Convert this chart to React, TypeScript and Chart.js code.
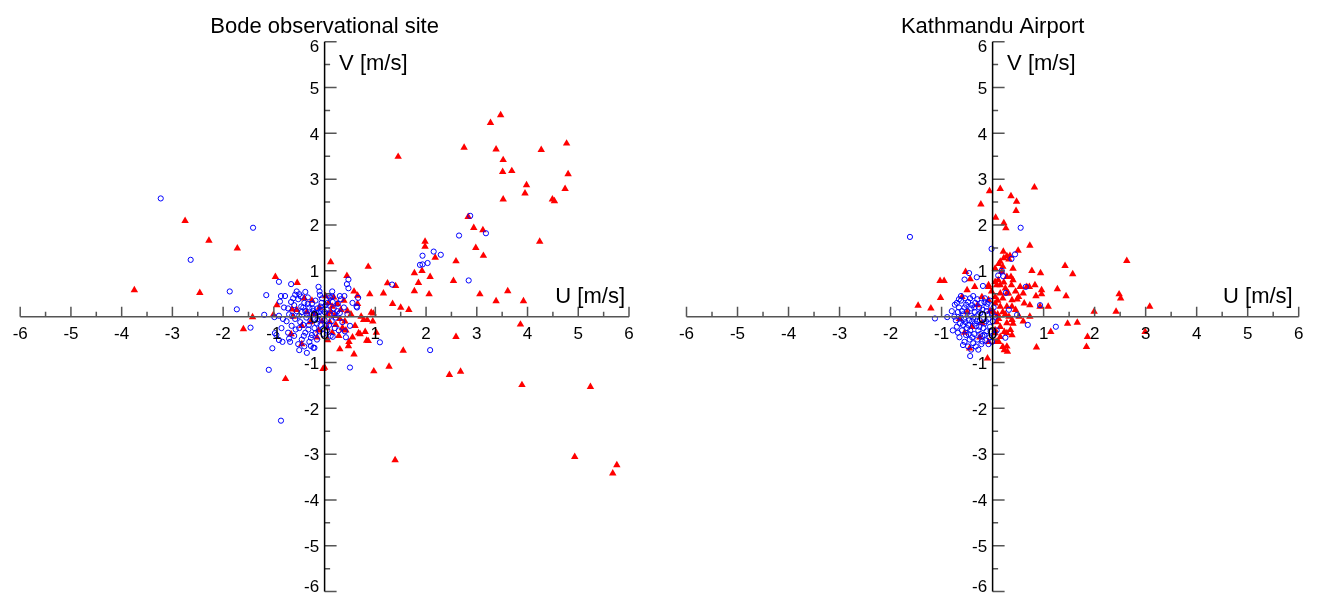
import React, { useEffect, useRef } from 'react';
import { Chart, registerables } from 'chart.js';

Chart.register(...registerables);

// ---------- tick values ----------
const majorTicks = [-6, -5, -4, -3, -2, -1, 0, 1, 2, 3, 4, 5, 6];
const minorTicks = [-5.5, -4.5, -3.5, -2.5, -1.5, -0.5, 0.5, 1.5, 2.5, 3.5, 4.5, 5.5];

// ---------- Bode observational site ----------
// [U, V] pairs, m/s
const bodeRed: number[][] = [
  [3.47, 4.40], [3.27, 4.23], [2.75, 3.69], [3.38, 3.65], [4.27, 3.64], [4.77, 3.78], [1.45, 3.49],
  [3.52, 3.42], [3.51, 3.16], [3.69, 3.18], [4.80, 3.11], [3.98, 2.87], [3.95, 2.69], [4.74, 2.79],
  [3.52, 2.56], [4.49, 2.56], [4.53, 2.52], [2.83, 2.18], [2.94, 1.94], [3.12, 1.89], [4.24, 1.64],
  [1.98, 1.64], [1.98, 1.53], [2.98, 1.50], [3.13, 1.33], [2.18, 1.29], [2.59, 1.21], [1.77, 0.95],
  [1.92, 1.00], [2.08, 0.87], [1.85, 0.74], [2.54, 0.78], [1.24, 0.73], [1.40, 0.67], [1.77, 0.56],
  [1.16, 0.51], [2.06, 0.49], [3.06, 0.49], [3.61, 0.56], [3.38, 0.34], [3.92, 0.34], [1.34, 0.28],
  [1.50, 0.20], [1.66, 0.15], [3.86, -0.17], [2.59, -0.44], [1.55, -0.74], [1.27, -1.09], [0.97, -1.19],
  [2.46, -1.27], [2.68, -1.20], [3.89, -1.49], [5.24, -1.53], [1.39, -3.13], [4.93, -3.06], [5.76, -3.24],
  [5.68, -3.42],
  [-2.75, 2.09], [-2.28, 1.66], [-1.72, 1.49], [-3.75, 0.58], [-2.46, 0.52], [-0.97, 0.87], [-0.54, 0.74],
  [-0.94, 0.25], [-1.42, -0.01], [-1.60, -0.27], [-1.01, 0.04], [-0.64, 0.16], [-0.66, -0.38], [-0.77, -1.36],
  [0.12, 1.19], [0.86, 1.09], [0.44, 0.89], [0.58, 0.55], [0.65, 0.46], [0.89, 0.49], [-0.45, -0.60],
  [0.00, -1.11], [-0.03, -1.14], [0.06, -0.51], [0.37, -0.28], [0.92, 0.09], [0.77, -0.07], [0.84, -0.07],
  [1.02, -0.35], [0.47, -0.64], [0.30, -0.71], [0.58, -0.82], [0.83, -0.52], [0.86, -0.53], [0.80, -0.33],
  [0.67, -0.36], [0.95, -0.10], [0.96, 0.07],
  [0.08, 0.30], [0.15, 0.22], [0.25, 0.28], [0.12, 0.10], [0.20, 0.02], [0.30, -0.05], [0.10, -0.12],
  [0.22, -0.18], [0.35, -0.25], [0.05, -0.25], [0.15, -0.35], [0.28, -0.42], [0.40, -0.10], [0.45, 0.12],
  [0.38, 0.35], [0.52, 0.05], [0.60, -0.20], [0.55, -0.45], [0.70, -0.38], [0.48, -0.55], [0.02, 0.45],
  [0.18, 0.42], [0.32, 0.15], [0.06, 0.05], [0.42, -0.30], [0.65, 0.28], [0.72, 0.00],
  [-0.35, 0.10], [-0.20, 0.05], [-0.10, 0.20], [-0.28, -0.12], [-0.12, -0.30], [-0.45, -0.20],
  [-0.55, 0.15], [-0.25, 0.35], [-0.05, -0.10], [-0.15, -0.45], [-0.40, 0.40], [-0.62, 0.00],
];

const bodeBlue: number[][] = [
  [2.87, 2.20], [2.65, 1.77], [3.18, 1.82], [1.93, 1.33], [2.15, 1.42], [2.29, 1.35], [2.03, 1.17],
  [1.88, 1.13], [1.93, 1.14], [1.33, 0.70], [2.84, 0.79], [2.08, -0.73], [1.09, -0.56],
  [-3.23, 2.58], [-1.41, 1.94], [-2.64, 1.24], [-1.87, 0.55], [-1.73, 0.16], [-1.46, -0.24], [-1.15, 0.47],
  [-0.90, 0.76], [-0.66, 0.71], [-0.86, 0.45], [-0.88, 0.33], [-1.19, 0.04], [-0.99, -0.01], [-0.98, -0.36],
  [-0.90, -0.51], [-0.83, -0.55], [-1.03, -0.69], [-1.10, -1.16], [-0.86, -2.27], [-0.50, -0.73],
  [-0.12, 0.65], [-0.38, 0.54], [-0.50, 0.49], [0.47, 0.81], [0.44, 0.71], [0.47, 0.62], [0.39, 0.45],
  [0.15, 0.44], [0.66, 0.41], [0.63, 0.22], [0.50, -1.11], [-0.35, -0.79], [-0.27, -0.64], [0.16, -0.44],
  [0.42, -0.45], [-0.09, 0.47], [0.11, 0.42], [0.30, 0.45], [-0.47, 0.44], [0.64, 0.20], [-0.20, -0.68],
  [-0.60, 0.25], [-0.52, 0.38], [-0.45, 0.10], [-0.40, 0.30], [-0.35, 0.05], [-0.30, 0.20], [-0.28, -0.08],
  [-0.22, 0.12], [-0.18, 0.35], [-0.15, -0.15], [-0.12, 0.02], [-0.08, 0.22], [-0.05, -0.05], [0.00, 0.10],
  [0.03, -0.20], [0.06, 0.30], [0.10, 0.05], [0.14, -0.10], [0.18, 0.18], [0.22, -0.02], [0.26, 0.28],
  [0.30, 0.08], [0.35, -0.12], [0.38, 0.20], [0.45, 0.05], [-0.70, 0.05], [-0.75, -0.10], [-0.65, -0.20],
  [-0.58, -0.05], [-0.50, -0.25], [-0.42, -0.18], [-0.38, -0.35], [-0.32, -0.28], [-0.25, -0.40],
  [-0.20, -0.25], [-0.10, -0.32], [-0.02, -0.38], [0.05, -0.30], [0.12, -0.42], [-0.55, 0.12],
  [-0.48, -0.12], [-0.62, 0.40], [-0.80, 0.20], [-0.85, -0.25], [-0.72, -0.35], [-0.60, -0.42],
  [-0.45, -0.50], [-0.30, -0.55], [-0.15, -0.50], [-0.05, 0.40], [0.02, 0.25], [0.08, 0.45], [0.16, 0.32],
  [0.25, 0.12], [-0.33, 0.42], [-0.25, 0.28], [-0.14, 0.18], [-0.20, -0.05], [-0.08, -0.18], [0.00, -0.08],
  [-0.36, -0.02], [-0.26, 0.06], [-0.16, 0.08], [-0.05, 0.15], [-0.42, 0.20], [-0.68, -0.55], [-0.52, -0.60],
  [-0.40, -0.65], [-0.22, -0.68], [0.55, 0.30], [0.50, -0.20], [0.20, -0.25], [-0.90, 0.02], [-0.95, -0.40],
  [-0.78, 0.45], [0.32, 0.38], [0.40, -0.32], [-0.10, 0.55], [-0.55, 0.55], [0.15, 0.55],
  [-0.72, 0.18], [-0.64, 0.02], [-0.57, -0.28], [-0.46, 0.22], [-0.38, 0.12], [-0.31, -0.18],
  [-0.24, 0.18], [-0.18, -0.36], [-0.11, 0.10], [-0.03, -0.26], [0.04, 0.16], [0.09, -0.18],
  [-0.66, 0.32], [-0.82, -0.05], [-0.50, 0.02], [-0.33, 0.28], [-0.27, -0.46], [-0.06, 0.30],
  [0.19, 0.06], [-0.41, -0.42], [-0.14, -0.06], [-0.70, -0.48], [0.28, -0.30], [-0.58, 0.48],
];

// ---------- Kathmandu Airport ----------
const ktmRed: number[][] = [
  [-0.06, 2.74], [0.15, 2.79], [0.82, 2.82], [0.36, 2.63], [0.47, 2.51], [-0.23, 2.45], [0.46, 2.31],
  [0.06, 2.16], [0.22, 2.04], [0.26, 1.93], [0.73, 1.55], [0.50, 1.44], [0.21, 1.42], [0.28, 1.32],
  [0.34, 1.33], [0.15, 1.20], [0.20, 1.09], [1.42, 1.11], [2.63, 1.22], [1.57, 0.93], [0.77, 1.00],
  [0.94, 0.95], [-0.53, 0.98], [-0.44, 0.82], [-1.03, 0.78], [-0.95, 0.78], [-1.02, 0.41], [-1.21, 0.18],
  [-1.46, 0.24], [0.36, 0.87], [0.11, 0.80], [0.22, 0.75], [0.08, 0.69], [0.37, 0.69], [-0.08, 0.69],
  [-0.35, 0.65], [0.54, 0.65], [0.72, 0.65], [0.96, 0.58], [1.27, 0.60], [1.44, 0.45], [2.48, 0.49],
  [2.51, 0.40], [0.48, 0.38], [0.60, 0.51], [0.85, 0.45], [1.09, 0.22], [0.31, 0.51], [0.73, 0.25],
  [0.52, 0.00], [0.73, 0.00], [0.32, 0.00], [0.40, -0.15], [0.23, -0.33], [0.07, -0.55], [0.12, -0.55],
  [-0.45, -0.69], [-0.10, -0.91], [0.23, -0.73], [0.20, -0.66], [0.38, -0.40], [0.86, -0.67], [1.14, -0.33],
  [1.47, -0.15], [1.66, -0.13], [1.86, -0.44], [1.84, -0.66], [1.99, 0.11], [2.42, 0.11], [3.08, 0.22],
  [2.99, -0.33], [0.96, 0.49],
  [0.28, 0.87], [0.15, 0.69], [0.05, 0.76], [-0.08, 0.65], [0.05, 0.43], [0.15, 0.51], [0.28, 0.51],
  [0.38, 0.36], [0.51, 0.43], [0.67, 0.65], [0.83, 0.69], [0.93, 0.22], [0.62, 0.29], [0.38, 0.22],
  [0.28, 0.22], [0.15, 0.22], [0.05, 0.29], [-0.08, 0.36], [-0.21, 0.43], [-0.50, 0.58], [-0.60, 0.43],
  [0.38, -0.07], [0.28, -0.14], [0.15, -0.22], [0.05, -0.29], [0.28, -0.36], [0.35, -0.29], [0.15, -0.44],
  [0.28, -0.65], [0.29, -0.76], [-0.08, -0.55], [0.05, -0.36], [-0.21, -0.14], [-0.40, -0.22], [0.10, 0.05],
  [0.20, 0.10], [-0.05, 0.12], [0.45, 0.15], [0.60, -0.10], [-0.30, 0.25], [-0.50, 0.10], [-0.65, -0.05],
  [-0.55, -0.35], [-0.25, -0.45], [0.12, 1.15], [0.32, 1.25], [0.22, 1.28], [0.05, 1.05], [0.40, 1.05],
  [0.18, 0.98], [0.25, 0.62], [0.45, 0.55], [0.40, 0.80],
  [0.02, 0.10], [0.10, 0.35], [0.20, 0.40], [0.12, -0.05], [0.25, 0.05], [0.08, -0.12], [-0.02, 0.55],
];

const ktmBlue: number[][] = [
  [-1.62, 1.74], [0.55, 1.94], [-0.02, 1.48], [0.44, 1.36], [0.37, 1.26], [0.18, 1.00], [0.11, 0.90],
  [0.21, 0.88], [-0.46, 0.95], [-0.55, 0.81], [-0.31, 0.86], [-0.19, 0.67], [0.65, 0.65], [0.26, 0.52],
  [0.93, 0.25], [-1.13, -0.04], [-0.89, -0.01], [-0.44, -0.86], [-0.01, -0.55], [0.25, -0.46], [0.69, -0.18],
  [1.24, -0.22], [0.48, 0.04], [0.32, 0.15],
  [-0.70, 0.30], [-0.62, 0.35], [-0.55, 0.20], [-0.48, 0.32], [-0.40, 0.25], [-0.30, 0.38], [-0.22, 0.30],
  [-0.12, 0.22], [-0.05, 0.35], [0.02, 0.20], [-0.68, 0.10], [-0.58, 0.05], [-0.50, 0.12], [-0.42, 0.02],
  [-0.35, 0.10], [-0.28, 0.05], [-0.20, 0.15], [-0.10, 0.05], [-0.02, 0.08], [-0.72, -0.08], [-0.64, -0.15],
  [-0.56, -0.05], [-0.48, -0.18], [-0.40, -0.10], [-0.32, -0.20], [-0.25, -0.08], [-0.16, -0.15],
  [-0.08, -0.05], [-0.60, -0.30], [-0.52, -0.40], [-0.44, -0.30], [-0.36, -0.38], [-0.28, -0.30],
  [-0.20, -0.42], [-0.12, -0.32], [-0.05, -0.22], [-0.55, -0.55], [-0.45, -0.50], [-0.38, -0.58],
  [-0.30, -0.50], [-0.22, -0.60], [-0.14, -0.52], [-0.06, -0.45], [-0.65, -0.45], [-0.70, -0.22],
  [-0.75, 0.00], [-0.62, 0.45], [-0.38, 0.45], [-0.15, 0.40], [-0.08, -0.60], [-0.33, -0.65], [-0.50, -0.25],
  [-0.42, 0.18], [-0.26, 0.20], [-0.18, -0.25], [-0.58, -0.18], [-0.66, 0.20], [-0.35, -0.15], [-0.10, 0.28],
  [0.00, -0.10], [0.05, 0.00], [-0.46, -0.08], [-0.24, -0.38], [-0.54, 0.40], [-0.80, 0.12], [-0.78, -0.30],
  [0.08, -0.30], [-0.28, -0.72], [-0.48, -0.65], [0.02, -0.40],
  [-0.66, 0.38], [-0.52, 0.26], [-0.44, 0.40], [-0.34, 0.30], [-0.24, 0.08], [-0.16, 0.32], [-0.62, -0.02],
  [-0.53, -0.12], [-0.38, -0.02], [-0.30, -0.10], [-0.13, -0.10], [-0.68, -0.35], [-0.47, -0.38],
  [-0.40, -0.45], [-0.26, -0.22], [-0.16, -0.40], [-0.58, -0.62], [-0.42, -0.72], [-0.20, -0.54],
  [-0.74, 0.26], [-0.12, 0.12], [-0.04, -0.32], [-0.36, 0.20], [-0.60, 0.12],
];

const FONT = '"Liberation Sans", Arial, Helvetica, sans-serif';

const crossAxes = {
  id: 'crossAxes',
  afterDatasetsDraw(chart: any, _args: any, opts: any) {
    const ctx = chart.ctx as CanvasRenderingContext2D;
    const xs = chart.scales.x;
    const ys = chart.scales.y;
    const x0 = xs.getPixelForValue(0);
    const y0 = ys.getPixelForValue(0);
    const xl = xs.getPixelForValue(majorTicks[0]);
    const xr = xs.getPixelForValue(majorTicks[majorTicks.length - 1]);
    const yt = ys.getPixelForValue(majorTicks[majorTicks.length - 1]);
    const yb = ys.getPixelForValue(majorTicks[0]);
    ctx.save();
    // tick marks
    ctx.strokeStyle = '#555';
    ctx.lineWidth = 1.5;
    ctx.beginPath();
    for (const v of majorTicks) {
      const px = xs.getPixelForValue(v);
      ctx.moveTo(px, y0);
      ctx.lineTo(px, y0 - 10);
      const py = ys.getPixelForValue(v);
      ctx.moveTo(x0, py);
      ctx.lineTo(x0 + 12, py);
    }
    for (const v of minorTicks) {
      const px = xs.getPixelForValue(v);
      ctx.moveTo(px, y0);
      ctx.lineTo(px, y0 - 5);
      const py = ys.getPixelForValue(v);
      ctx.moveTo(x0, py);
      ctx.lineTo(x0 + 5.5, py);
    }
    ctx.stroke();
    // x axis line
    ctx.strokeStyle = '#555';
    ctx.beginPath();
    ctx.moveTo(xl, y0);
    ctx.lineTo(xr, y0);
    ctx.stroke();
    // y axis line
    ctx.strokeStyle = '#000';
    ctx.beginPath();
    ctx.moveTo(x0, yt);
    ctx.lineTo(x0, yb);
    ctx.stroke();

    // tick labels
    ctx.fillStyle = '#000';
    ctx.font = `17px ${FONT}`;
    ctx.textAlign = 'center';
    ctx.textBaseline = 'alphabetic';
    for (const v of majorTicks) {
      ctx.fillText(String(v), xs.getPixelForValue(v), y0 + 22.5);
    }
    ctx.textAlign = 'right';
    majorTicks.forEach((v, i) => {
      const py = ys.getPixelForValue(v);
      let base = py + 6.3;
      if (i === majorTicks.length - 1) base = py + 10.5;
      if (i === 0) base = py;
      ctx.fillText(String(v), x0 - 5.5, base);
    });

    // axis titles
    ctx.font = `22px ${FONT}`;
    ctx.textAlign = 'left';
    ctx.fillText(opts.vLabel, x0 + 14.5, 70);
    ctx.textAlign = 'right';
    ctx.fillText(opts.uLabel, xr - opts.uRight, 303);
    // panel title
    ctx.textAlign = 'center';
    ctx.fillText(opts.title, x0, 33);
    ctx.restore();
  },
};

function makeConfig(
  title: string,
  red: number[][],
  blue: number[][],
  padding: { left: number; right: number; top: number; bottom: number },
  uRight: number
): any {
  return {
    type: 'scatter',
    data: {
      datasets: [
        {
          label: 'blue',
          data: blue.map(([x, y]) => ({ x, y })),
          pointStyle: 'circle',
          pointRadius: 2.6,
          pointBorderWidth: 1,
          pointBorderColor: '#0000ff',
          pointBackgroundColor: 'rgba(0,0,0,0)',
          pointHoverRadius: 2.6,
        },
        {
          label: 'red',
          data: red.map(([x, y]) => ({ x, y })),
          pointStyle: 'triangle',
          pointRadius: 4.3,
          pointBorderWidth: 0,
          pointBackgroundColor: '#ff0000',
          pointBorderColor: '#ff0000',
          pointHoverRadius: 4.3,
        },
      ],
    },
    options: {
      animation: false,
      responsive: false,
      maintainAspectRatio: false,
      devicePixelRatio: 1,
      events: [],
      layout: { padding },
      scales: {
        x: { type: 'linear', min: -6, max: 6, display: false },
        y: { type: 'linear', min: -6, max: 6, display: false },
      },
      plugins: {
        legend: { display: false },
        tooltip: { enabled: false },
        title: { display: false },
        crossAxes: { title, vLabel: 'V [m/s]', uLabel: 'U [m/s]', uRight },
      },
    },
    plugins: [crossAxes],
  };
}

export default function App() {
  const leftRef = useRef<HTMLCanvasElement>(null);
  const rightRef = useRef<HTMLCanvasElement>(null);

  useEffect(() => {
    const c1 = new Chart(
      leftRef.current as HTMLCanvasElement,
      makeConfig('Bode observational site', bodeRed, bodeBlue, { left: 20.2, right: 31, top: 41.7, bottom: 5.4 }, 4)
    );
    const c2 = new Chart(
      rightRef.current as HTMLCanvasElement,
      makeConfig('Kathmandu Airport', ktmRed, ktmBlue, { left: 26.5, right: 18.3, top: 41.7, bottom: 5.4 }, 6)
    );
    return () => {
      c1.destroy();
      c2.destroy();
    };
  }, []);

  return (
    <div style={{ position: 'absolute', left: 0, top: 0, width: 1317, height: 597, background: '#fff' }}>
      <canvas ref={leftRef} width={660} height={597} style={{ position: 'absolute', left: 0, top: 0 }} />
      <canvas ref={rightRef} width={657} height={597} style={{ position: 'absolute', left: 660, top: 0 }} />
    </div>
  );
}
